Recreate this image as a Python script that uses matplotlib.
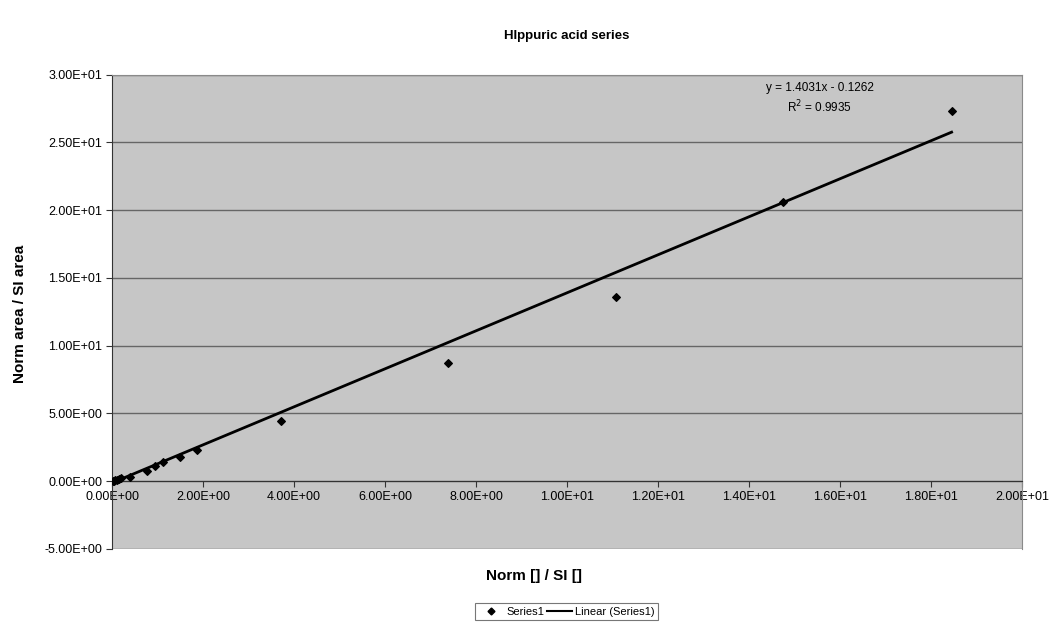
import matplotlib
matplotlib.use("Agg")
import matplotlib.pyplot as plt
import numpy as np
from matplotlib.lines import Line2D

plt.rcParams['font.family'] = ['Liberation Sans', 'DejaVu Sans']

# Norm concentration / SI concentration vs Norm area / SI area
x_ratio = [18.45, 14.75, 11.08, 7.39, 3.71, 1.86, 1.49, 1.13, 0.95, 0.76,
           0.40, 0.20, 0.15, 0.11, 0.07, 0.04, 0.02]
y_ratio = [27.3, 20.6, 13.6, 8.69, 4.43, 2.29, 1.75, 1.38, 1.10, 0.76,
           0.32, 0.20, 0.15, 0.10, 0.07, 0.03, 0.02]

slope = 1.4031
intercept = -0.1262
r_squared = 0.9935

x_ticks = np.arange(0, 20.01, 2)
y_ticks = np.arange(-5, 30.01, 5)

def sci(v):
    return f"{v:.2E}"

fig = plt.figure(figsize=(10.57, 6.28), dpi=100)
ax = fig.add_axes([0.106, 0.126, 0.861, 0.755])
ax.set_facecolor('#c6c6c6')

ax.set_xlim(0, 20)
ax.set_ylim(-5, 30)

# horizontal gridlines
for yv in y_ticks:
    ax.axhline(yv, color='#666666', lw=1.0, zorder=1)

# trend line over the data range
xl = np.array([0.0, max(x_ratio)])
ax.plot(xl, slope * xl + intercept, color='black', lw=2.0, zorder=3)

ax.scatter(x_ratio, y_ratio, marker='D', s=15, color='black', zorder=4)

ax.text(15.55, 29.0, f"y = {slope}x - {abs(intercept)}", ha='center', va='center', fontsize=8.5)
ax.text(15.55, 27.6, f"R$^2$ = {r_squared}", ha='center', va='center', fontsize=8.5)

# axes: x axis crosses at y = 0
ax.spines['bottom'].set_position(('data', 0))
ax.spines['bottom'].set_color('#333333')
ax.spines['left'].set_color('#333333')
ax.spines['top'].set_color('#8a8a8a')
ax.spines['right'].set_color('#8a8a8a')

ax.set_xticks(x_ticks)
ax.set_xticklabels([sci(v) for v in x_ticks], fontsize=9)
ax.set_yticks(y_ticks)
ax.set_yticklabels([sci(v) for v in y_ticks], fontsize=9)
ax.tick_params(axis='x', direction='out', length=4, pad=3, color='#333333')
ax.tick_params(axis='y', direction='out', length=4, pad=3, color='#333333')

ax.set_title("HIppuric acid series", fontsize=9.5, fontweight='bold', pad=26)
fig.text(0.505, 0.083, "Norm [] / SI []", ha='center', va='center', fontsize=11, fontweight='bold')
fig.text(0.019, 0.50, "Norm area / SI area", ha='center', va='center', rotation=90,
         fontsize=11, fontweight='bold')

handles = [Line2D([], [], marker='D', color='black', ls='none', markersize=3.5),
           Line2D([], [], color='black', lw=1.5)]
leg = fig.legend(handles, ["Series1", "Linear (Series1)"], loc='center',
                 bbox_to_anchor=(0.536, 0.026), ncol=2, fontsize=8, frameon=True,
                 fancybox=False, edgecolor='#555555', handlelength=2.2, columnspacing=0.3,
                 handletextpad=0.3, borderpad=0.3)
leg.get_frame().set_linewidth(0.8)

fig.savefig("out.png", dpi=100, facecolor='white')
